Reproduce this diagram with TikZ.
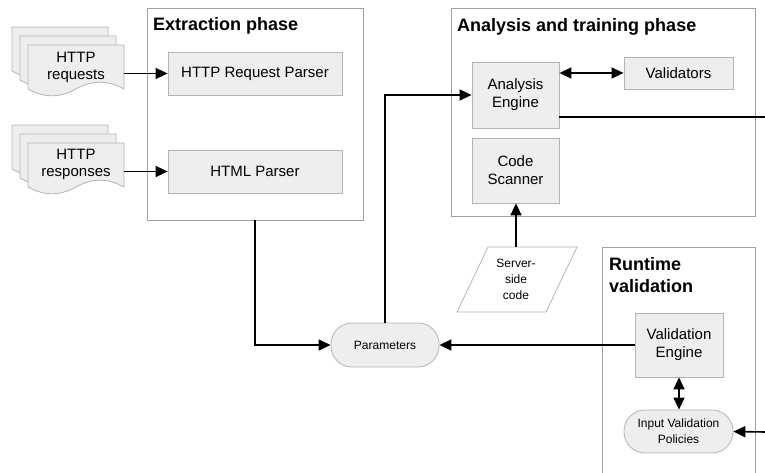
\documentclass[tikz,border=0pt]{standalone}
\usepackage{fontspec}
\setmainfont{Liberation Sans}
\usetikzlibrary{arrows.meta}

\definecolor{boxfill}{HTML}{EEEEEE}
\definecolor{boxline}{HTML}{B4B4B4}
\definecolor{phaseline}{HTML}{A0A0A0}

\begin{document}
\begin{tikzpicture}[x=1pt, y=-1pt,
  phase/.style={draw=phaseline, line width=0.8pt, inner sep=0},
  phasetitle/.style={font=\fontsize{18}{22}\selectfont\bfseries, anchor=base west, align=left, inner sep=0},
  block/.style={draw=boxline, fill=boxfill, line width=0.8pt, inner sep=0, align=center, font=\fontsize{15}{18}\selectfont},
  pill/.style={block, rounded corners=21pt, font=\fontsize{12}{16}\selectfont},
  doc/.style={draw=boxline, fill=boxfill, line width=0.8pt},
  doctext/.style={inner sep=0, minimum width=96, align=center, font=\fontsize{15}{17}\selectfont},
  link/.style={line width=1.6pt},
  arrow/.style={link, -{Triangle[length=12pt,width=11pt]}},
  twoway/.style={link, {Triangle[length=12pt,width=11pt]}-{Triangle[length=12pt,width=11pt]}}]
\useasboundingbox (0,0) rectangle (765,473);

% phases
\node[phase, minimum width=216, minimum height=212] (extract) at (255,114) {};
\node[phase, minimum width=304, minimum height=208] (analysis) at (603,112) {};
\draw[draw=phaseline, line width=0.8pt] (602,473) |- (755,247) -- (755,473); % runtime, open below
\node[phasetitle] (extitle) at (153,31) {Extraction phase};
\node[phasetitle] (antitle) at (457,31.5) {Analysis and training phase};
\node[phasetitle] (rttitle) at (609,292) {Runtime\\validation};

% input documents
\foreach \dy in {27,125} \foreach \k in {0,1,2}
  \draw[doc, shift={(12+8*\k,\dy+9*\k)}] (0,0) -- (96,0) -- (96,44) .. controls (80,35) and (64,35) .. (48,44) .. controls (32,53) and (16,53) .. (0,44) -- cycle;
\node[doctext] (req) at (76,67.5) {HTTP\\requests};
\node[doctext] (resp) at (76,164) {HTTP\\responses};

% blocks
\node[block, minimum width=174, minimum height=43] (hrp) at (255,73.5) {HTTP Request Parser};
\node[block, minimum width=174, minimum height=43] (html) at (255,171.5) {HTML Parser};
\node[block, minimum width=87, minimum height=66] (engine) at (515.5,95) {Analysis\\Engine};
\node[block, minimum width=109, minimum height=32] (valid) at (678.5,73) {Validators};
\node[block, minimum width=87, minimum height=65] (scan) at (515.5,170.5) {Code\\Scanner};
\node[block, minimum width=88, minimum height=64] (rtengine) at (679,345) {Validation\\Engine};
\node[pill, minimum width=108, minimum height=44] (params) at (385,345) {Parameters};
\node[pill, minimum width=109, minimum height=43] (policies) at (678.5,431.5) {Input Validation\\Policies};
\draw[doc, fill=white] (488,247) -- (577,247) -- (546,312) -- (457,312) -- cycle; % server-side code
\node[inner sep=0, minimum height=65, align=center, font=\fontsize{12}{16}\selectfont] (code) at (516,279.5) {Server-\\side\\code};
\coordinate (outA) at (765,117);
\coordinate (inB) at (765,432);

% connectors
\draw[arrow] (req.east |- hrp.west) -- (hrp.west);
\draw[arrow] (resp.east |- html.west) -- (html.west);
\draw[arrow] (extract.south) |- (params.west);
\draw[arrow] (params.north) |- (engine.west);
\draw[twoway] (engine.east |- valid.west) -- (valid.west);
\draw[link] (engine.east |- outA) -- (outA);
\draw[arrow] (code.north) -- (code.north |- scan.south);
\draw[arrow] (rtengine.west) -- (params.east);
\draw[twoway] (rtengine.south) -- (rtengine.south |- policies.north);
\draw[arrow] (inB) -- (policies.east);
\end{tikzpicture}
\end{document}
